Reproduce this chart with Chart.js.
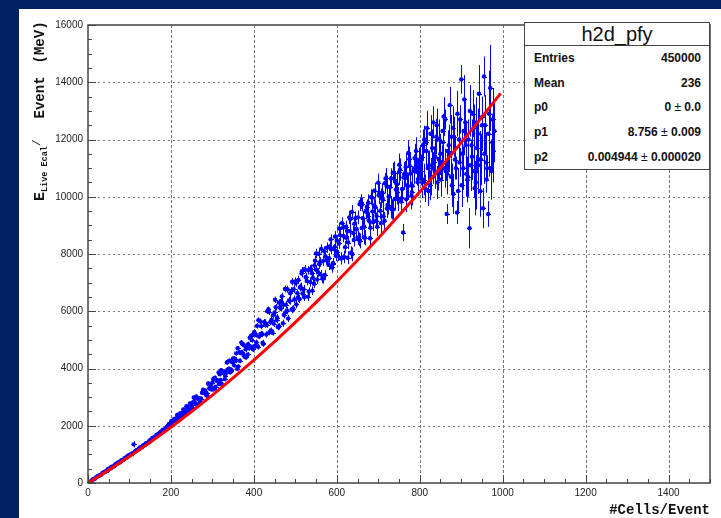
<!DOCTYPE html>
<html>
<head>
<meta charset="utf-8">
<script src="https://cdn.jsdelivr.net/npm/chart.js@4/dist/chart.umd.min.js"></script>
<style>
  html, body { margin: 0; padding: 0; }
  body { width: 721px; height: 518px; background: #00205f; position: relative; overflow: hidden; }
  #panel { position: absolute; left: 19px; top: 9px; width: 702px; height: 509px; background: #fff; }
  #panel canvas { position: absolute; left: 0; top: 0; }
  #ytitle { position: absolute; left: 29px; top: 201px; transform-origin: 0 0; transform: rotate(-90deg);
    white-space: pre; font: bold 14px "Liberation Mono", monospace; line-height: 16px; color: #111; }
  #ytitle .e { font-size: 15px; }
  #ytitle sub { font-size: 8.5px; vertical-align: -3px; }
  #ytitle sup { font-size: 11px; vertical-align: 4px; font-weight: normal; }
  #ytitle .w1 { margin-left: 21px; }
  #ytitle .w2 { margin-left: 13px; }
  #xtitle { position: absolute; right: 11px; top: 502px; font: bold 14px "Liberation Mono", monospace; color: #111; }
  #stats { position: absolute; left: 524px; top: 22px; width: 184px; height: 146px; background: #fff;
    border: 1px solid #444; font-family: "Liberation Sans", Arial, sans-serif; color: #111; }
  #stats .ttl { height: 22px; line-height: 22px; text-align: center; font-size: 20px; border-bottom: 1px solid #444; }
  #stats .row { height: 24.6px; display: flex; justify-content: space-between; align-items: center;
    padding: 0 8px 0 9px; font-size: 12px; font-weight: bold; }
  #stats .pm { font-weight: normal; }
</style>
</head>
<body>
<div id="panel"><canvas id="c" width="702" height="509"></canvas></div>
<div id="ytitle"><span class="e">E</span><sub>Live Ecal</sub><sup>/</sup><span class="w1">Event</span><span class="w2">(MeV)</span></div>
<div id="xtitle">#Cells/Event</div>
<div id="stats">
  <div class="ttl">h2d_pfy</div>
  <div class="row"><span>Entries</span><span>450000</span></div>
  <div class="row"><span>Mean</span><span>236</span></div>
  <div class="row"><span>p0</span><span>0 <span class="pm">±</span> 0.0</span></div>
  <div class="row"><span>p1</span><span>8.756 <span class="pm">±</span> 0.009</span></div>
  <div class="row"><span>p2</span><span>0.004944 <span class="pm">±</span> 0.000020</span></div>
</div>
<script>
// profile bins, read every 5 cells; the "2" and "3" arrays are bins in between
const cellStep = 5;

// 5 - 200 cells
const energyA = [40, 110, 140, 200, 250, 280, 350, 390, 420, 500,
  540, 560, 640, 690, 710, 790, 810, 880, 930, 970,
  1010, 1350, 1130, 1160, 1240, 1260, 1330, 1390, 1410, 1500,
  1570, 1590, 1680, 1710, 1780, 1850, 1870, 1960, 2060, 2070];
const energyA2 = [25, 60, 130, 160, 230, 260, 300, 370, 400, 470,
  490, 570, 590, 660, 720, 740, 800, 860, 890, 960,
  1000, 1040, 1090, 1150, 1200, 1230, 1300, 1340, 1400, 1460,
  1510, 1580, 1620, 1690, 1740, 1800, 1860, 1900, 1990, 2020];
const errA = [20, 20, 25, 20, 25, 30, 25, 30, 30, 30, 30, 35, 30, 35, 40, 35, 40, 35, 40, 40,
  45, 110, 40, 45, 45, 50, 45, 50, 50, 55, 50, 55, 60, 55, 60, 60, 65, 60, 65, 70];

// 205 - 400 cells
const energyB = [2180, 2120, 2360, 2340, 2340, 2570, 2490, 2630, 2540, 2710,
  2990, 2780, 2970, 2790, 3150, 3140, 3070, 3480, 3290, 3510,
  3290, 3590, 3860, 3600, 3870, 3630, 4210, 3990, 3960, 4340,
  4330, 3990, 4570, 4910, 4470, 4670, 4490, 5070, 4990, 4770];
const energyB2 = [2050, 2240, 2230, 2180, 2440, 2450, 2410, 2680, 2590, 2590,
  2810, 2960, 2730, 2960, 2950, 3260, 3230, 3050, 3310, 3270,
  3640, 3360, 3580, 3800, 3460, 3880, 3830, 4240, 3870, 4220,
  4110, 4530, 4070, 4550, 4850, 4410, 4730, 4710, 5130, 4670];
const energyB3 = [2170, 2130, 2250, 2390, 2270, 2420, 2560, 2480, 2650, 2780,
  2650, 2830, 3020, 2920, 2850, 3160, 3160, 3140, 3460, 3400,
  3270, 3680, 3560, 3460, 3940, 3880, 3750, 3960, 4270, 3900,
  4350, 4270, 4710, 4270, 4570, 4810, 4390, 4850, 4770, 5170];
const errB = [40, 45, 40, 50, 45, 50, 45, 55, 50, 55, 50, 60, 55, 60, 55, 65, 60, 65, 60, 70,
  65, 70, 65, 75, 70, 75, 70, 80, 75, 80, 75, 85, 80, 85, 80, 90, 85, 90, 85, 95];

// 405 - 600 cells
const energyC = [5170, 4760, 5650, 5200, 5630, 5190, 6070, 5630, 5250, 5960,
  5690, 6300, 6100, 5580, 6780, 6020, 6380, 6710, 6090, 7040,
  6630, 6430, 7320, 6770, 7200, 6510, 7460, 7330, 6960, 8020,
  7360, 7720, 7140, 8090, 7790, 7620, 8510, 7640, 8250, 8470];
const energyC2 = [4780, 5490, 5120, 5480, 4860, 5530, 6000, 5270, 5700, 5570,
  6140, 5450, 6130, 6520, 5870, 6230, 5750, 6630, 7030, 6410,
  6240, 7090, 6860, 6620, 7470, 7060, 6690, 7470, 7160, 7770,
  7110, 7650, 8180, 7140, 7920, 7760, 8260, 7530, 8170, 7940];
const energyC3 = [5280, 4910, 5690, 5210, 4900, 5610, 5520, 5980, 5330, 5860,
  6400, 5780, 5470, 6360, 6230, 5960, 6770, 6360, 6060, 6770,
  6990, 6470, 6830, 7400, 6500, 7180, 7430, 7020, 6720, 7600,
  7440, 8010, 7280, 7750, 7270, 8220, 7850, 8170, 7690, 8610];
const errC = [90, 100, 95, 105, 100, 110, 100, 115, 105, 120, 110, 120, 115, 125, 120, 130, 125, 135, 130, 140,
  135, 145, 140, 150, 145, 155, 150, 160, 150, 165, 155, 170, 160, 175, 165, 180, 170, 185, 175, 190];

// 605 - 800 cells
const energyD = [8370, 7840, 8920, 8240, 8810, 9280, 8050, 8730, 9250, 8570,
  9740, 8910, 8590, 9510, 9330, 8550, 9970, 9700, 9170, 10490,
  9510, 10130, 9160, 10380, 10000, 9620, 10840, 9920, 10440, 10860,
  9830, 8750, 10830, 10400, 11320, 10040, 10910, 11340, 10510, 11280];
const energyD2 = [7940, 8660, 9080, 7900, 8570, 8400, 9220, 7990, 9060, 8880,
  8510, 9830, 9250, 8570, 9640, 9170, 9990, 9110, 9630, 8950,
  10130, 9950, 9320, 10640, 9710, 10340, 9560, 10830, 10250, 9920,
  10950, 10270, 10790, 9910, 11530, 10810, 10380, 11350, 10870, 11190];
const energyD3 = [8060, 8890, 7860, 8630, 8950, 7870, 8800, 9470, 8490, 8860,
  9280, 8460, 9730, 8950, 9470, 9790, 8920, 9490, 10210, 9330,
  10050, 9080, 9900, 10470, 9590, 10010, 10640, 9560, 10530, 10150,
  11120, 9950, 10670, 11040, 10360, 11080, 10160, 10980, 11600, 10620];
const errD = [190, 210, 200, 220, 210, 230, 220, 240, 230, 250, 240, 260, 250, 270, 260, 290, 270, 300, 280, 320,
  300, 340, 310, 360, 330, 380, 350, 400, 370, 420, 390, 300, 420, 450, 440, 480, 460, 500, 480, 520];

// 805 - 980 cells
const energyE = [11400, 10600, 11900, 11000, 10400, 11700, 11200, 12100, 10800, 11500,
  12300, 11000, 9400, 11800, 10700, 12400, 11300, 9450, 12000, 14100,
  11000, 12600, 10600, 8900, 11800, 12400, 10500, 12200, 11300, 12500,
  14200, 11200, 9400, 13800, 11900, 12300];
const energyE2 = [10900, 11800, 10300, 12400, 11100, 10700, 12600, 11400, 10500, 12000,
  11200, 12800, 10900, 11600, 13200, 10400, 12100, 11000, 10200, 12700,
  11500, 13400, 10800, 12000, 11100, 12900, 10300, 11700, 13600, 11300,
  9600, 12500, 11000, 12900, 10900, 11600];
const energyE3 = [11100, 10500, 12000, 11600, 10200, 12200, 11000, 10900, 12500, 11300,
  10600, 11900, 12700, 10800, 11500, 12100, 10100, 11700, 12900, 11200,
  10400, 12300, 11800, 10700, 13000, 11400, 10900, 12600, 11100, 10200,
  12800, 11500, 10600, 12200, 11000, 12700];
const errE = [500, 550, 480, 600, 520, 650, 560, 620, 580, 700, 600, 680, 350, 720, 640, 760, 700, 400, 800, 500,
  760, 850, 800, 700, 900, 820, 950, 880, 1000, 900, 700, 1050, 450, 1500, 1000, 1100];

// fitted curve
const fitCells = [0, 50, 100, 150, 200, 250, 300, 350, 400, 450, 500, 550, 600, 650, 700, 750, 800, 850, 900, 950, 995];
const fitEnergy = [0, 450, 925, 1425, 1950, 2500, 3070, 3670, 4290, 4940, 5610, 6310, 7030, 7780, 8550, 9350, 10170, 11010, 11890, 12780, 13610];

const segments = [
    { first: 5, values: energyA, errs: errA }, { first: 2.5, values: energyA2, errs: errA },
    { first: 205, values: energyB, errs: errB }, { first: 202.5, values: energyB2, errs: errB },
    { first: 201, values: energyB3, errs: errB },
    { first: 405, values: energyC, errs: errC }, { first: 402.5, values: energyC2, errs: errC },
    { first: 401, values: energyC3, errs: errC },
    { first: 605, values: energyD, errs: errD }, { first: 602.5, values: energyD2, errs: errD },
    { first: 601, values: energyD3, errs: errD },
    { first: 805, values: energyE, errs: errE }, { first: 802.5, values: energyE2, errs: errE },
    { first: 801, values: energyE3, errs: errE }
];
const profilePoints = [];
segments.forEach(seg => {
    seg.values.forEach((v, i) => {
        profilePoints.push({ x: seg.first + i * cellStep, y: v, err: seg.errs[i] });
    });
});
const fitPoints = fitCells.map((c, i) => ({ x: c, y: fitEnergy[i] }));

// ROOT-like frame: dotted grid, inward ticks, box
const rootFrame = {
    id: 'rootFrame',
    beforeDatasetsDraw(chart) {
        const { ctx, chartArea: a, scales: { x, y } } = chart;
        ctx.save();
        ctx.strokeStyle = '#777';
        ctx.lineWidth = 1;
        ctx.setLineDash([2, 3]);
        for (let v = 2000; v < 16000; v += 2000) {
            const py = Math.round(y.getPixelForValue(v)) + 0.5;
            ctx.beginPath(); ctx.moveTo(a.left, py); ctx.lineTo(a.right, py); ctx.stroke();
        }
        ctx.setLineDash([3, 2]);
        for (let v = 200; v < 1500; v += 200) {
            const px = Math.round(x.getPixelForValue(v)) + 0.5;
            ctx.beginPath(); ctx.moveTo(px, a.top); ctx.lineTo(px, a.bottom); ctx.stroke();
        }
        ctx.restore();
    },
    afterDraw(chart) {
        const { ctx, chartArea: a, scales: { x, y } } = chart;
        ctx.save();
        ctx.strokeStyle = '#444';
        ctx.lineWidth = 1.5;
        ctx.strokeRect(a.left, a.top, a.right - a.left, a.bottom - a.top);
        ctx.lineWidth = 1;
        for (let v = 0; v <= 16000; v += 500) {
            const py = Math.round(y.getPixelForValue(v)) + 0.5;
            const len = v % 2000 === 0 ? 8 : 4;
            ctx.beginPath(); ctx.moveTo(a.left, py); ctx.lineTo(a.left + len, py); ctx.stroke();
        }
        for (let v = 0; v <= 1500; v += 50) {
            const px = Math.round(x.getPixelForValue(v)) + 0.5;
            const len = v % 200 === 0 ? 8 : 4;
            ctx.beginPath(); ctx.moveTo(px, a.bottom); ctx.lineTo(px, a.bottom - len); ctx.stroke();
        }
        ctx.restore();
    }
};

// vertical error bars (and bin-width bars) for the profile points
const errorBars = {
    id: 'errorBars',
    beforeDatasetsDraw(chart) {
        const { ctx, scales: { x, y } } = chart;
        ctx.save();
        ctx.strokeStyle = '#0000ff';
        ctx.lineWidth = 1;
        profilePoints.forEach(p => {
            const px = Math.round(x.getPixelForValue(p.x)) + 0.5;
            const py = Math.round(y.getPixelForValue(p.y)) + 0.5;
            const top = y.getPixelForValue(p.y + p.err);
            const bot = y.getPixelForValue(p.y - p.err);
            ctx.beginPath();
            ctx.moveTo(px, top); ctx.lineTo(px, bot);
            ctx.moveTo(px - 2.5, py); ctx.lineTo(px + 2.5, py);
            ctx.stroke();
        });
        ctx.restore();
    }
};

new Chart(document.getElementById('c'), {
    type: 'scatter',
    data: {
        datasets: [
            {
                label: 'fit',
                data: fitPoints,
                showLine: true,
                borderColor: '#ff0000',
                borderWidth: 3,
                pointRadius: 0,
                order: 0
            },
            {
                label: 'h2d_pfy',
                data: profilePoints,
                backgroundColor: '#0000ff',
                borderWidth: 0,
                pointRadius: 2.2,
                order: 1
            }
        ]
    },
    options: {
        responsive: false,
        animation: false,
        events: [],
        layout: { padding: { left: 0, right: 11, top: 16, bottom: 0 } },
        plugins: { legend: { display: false }, tooltip: { enabled: false } },
        scales: {
            x: {
                type: 'linear',
                min: 0,
                max: 1500,
                grid: { display: false, drawTicks: false },
                border: { display: false },
                ticks: {
                    stepSize: 200,
                    maxRotation: 0,
                    autoSkip: false,
                    padding: 4,
                    color: '#222',
                    font: { family: 'Liberation Sans', size: 10 },
                    callback: v => (v % 200 === 0 ? String(v) : '')
                },
                afterFit: s => { s.height = 35; }
            },
            y: {
                type: 'linear',
                min: 0,
                max: 16000,
                grid: { display: false, drawTicks: false },
                border: { display: false },
                ticks: {
                    stepSize: 2000,
                    padding: 5,
                    color: '#222',
                    font: { family: 'Liberation Sans', size: 10 },
                    callback: v => String(v)
                },
                afterFit: s => { s.width = 69; }
            }
        }
    },
    plugins: [rootFrame, errorBars]
});
</script>
</body>
</html>
